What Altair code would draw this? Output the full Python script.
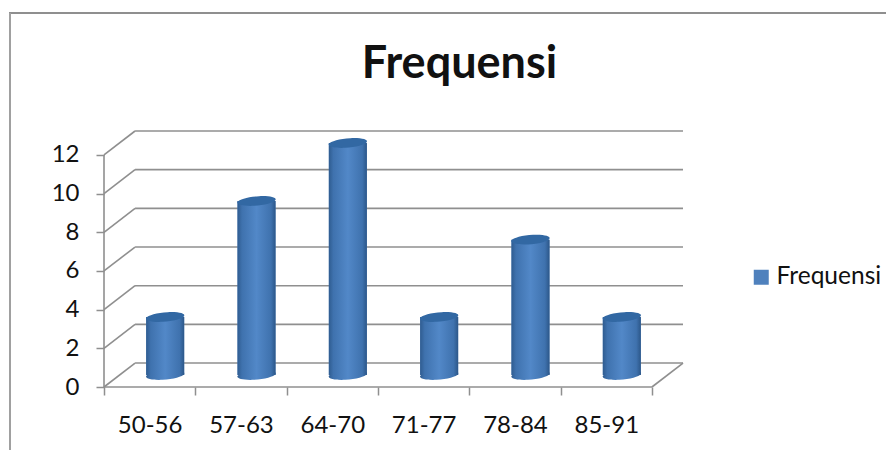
import json
import altair as alt
import pandas as pd

categories = ["50-56", "57-63", "64-70", "71-77", "78-84", "85-91"]
frequensi = [3, 9, 12, 3, 7, 3]
y_ticks = [0, 2, 4, 6, 8, 10, 12]
series_name = "Frequensi"

FONT = "Lato"
GREY = "#8f8f8f"
DEPTH_X = 0.34      # depth of the pseudo-3D box in category units
DEPTH_Y = 1.24      # depth of the pseudo-3D box in value units
HALF = 0.208        # half a cylinder width, in category units
N = len(categories)

x_scale = alt.Scale(domain=[0, N + DEPTH_X], nice=False, zero=False)
y_scale = alt.Scale(domain=[0, 12 + DEPTH_Y], nice=False, zero=False)

bars = pd.DataFrame({"cat": categories, "v": frequensi, "i": range(N), "series": series_name})
bars["cx"] = bars["i"] + 0.5 + DEPTH_X / 2
bars["left"] = bars["cx"] - HALF
bars["right"] = bars["cx"] + HALF
bars["base"] = DEPTH_Y / 2
bars["top"] = bars["v"] + DEPTH_Y / 2

grid = pd.DataFrame({"v": y_ticks})
grid["x0"] = 0.0
grid["xd"] = DEPTH_X
grid["xe"] = N + DEPTH_X
grid["yd"] = grid["v"] + DEPTH_Y

label_array = json.dumps(categories)
x_axis = alt.Axis(
    values=[k / 2 for k in range(2 * N + 1)],
    labelExpr=f"datum.value % 1 ? {label_array}[floor(datum.value)] : ''",
    tickOpacity={"condition": {"test": "datum.value % 1 == 0", "value": 1}, "value": 0},
    tickColor=GREY, tickWidth=1.5, tickSize=8, domain=False, grid=False, title=None,
    labelFont=FONT, labelFontSize=24, labelColor="#111111", labelPadding=18,
    labelOverlap=False, labelBound=False, labelFlush=False,
)
y_axis = alt.Axis(
    values=y_ticks, tickColor=GREY, tickWidth=1.5, tickSize=8, domain=False, grid=False,
    title=None, labelFont=FONT, labelFontSize=24, labelColor="#111111", labelPadding=17,
    labelOverlap=False, labelBound=False,
)

X = lambda f: alt.X(f, scale=x_scale, axis=x_axis)
Y = lambda f: alt.Y(f, scale=y_scale, axis=y_axis)

base_grid = alt.Chart(grid)
back_lines = base_grid.mark_rule(color=GREY, strokeWidth=1.6).encode(x=X("xd:Q"), x2="xe:Q", y=Y("yd:Q"))
side_lines = base_grid.mark_rule(color=GREY, strokeWidth=1.6).encode(x=X("x0:Q"), x2="xd:Q", y=Y("v:Q"), y2="yd:Q")

box = pd.DataFrame({"a": [0.0], "b": [float(N)], "y": [0.0], "d": [DEPTH_X], "h": [DEPTH_Y], "e": [N + DEPTH_X], "t": [12.0]})
front_floor = alt.Chart(box)
floor_line = front_floor.mark_rule(color=GREY, strokeWidth=1.6).encode(x=X("a:Q"), x2="b:Q", y=Y("y:Q"))
right_diag = front_floor.mark_rule(color=GREY, strokeWidth=1.6).encode(x=X("b:Q"), x2="e:Q", y=Y("y:Q"), y2="h:Q")
y_line = front_floor.mark_rule(color=GREY, strokeWidth=1.6).encode(x=X("a:Q"), y=Y("y:Q"), y2="t:Q")

frame_top = front_floor.mark_rule(color=GREY, strokeWidth=2).encode(
    x=alt.value(-95), x2=alt.value(800), y=alt.value(-118))
frame_left = front_floor.mark_rule(color="#a0a0a0", strokeWidth=2).encode(
    x=alt.value(-94), y=alt.value(-118), y2=alt.value(330))

body_gradient = alt.Gradient(
    gradient="linear", x1=0, x2=1, y1=0, y2=0,
    stops=[
        alt.GradientStop(offset=0, color="#2f5c90"),
        alt.GradientStop(offset=0.12, color="#3f72ae"),
        alt.GradientStop(offset=0.5, color="#5288c8"),
        alt.GradientStop(offset=0.88, color="#3f72ae"),
        alt.GradientStop(offset=1, color="#2c5789"),
    ],
)
ELLIPSE = "M-1,0.05 A1,0.24 -5 1,1 1,-0.05 A1,0.24 -5 1,1 -1,0.05 Z"
SIZE = 1444

base_bars = alt.Chart(bars)
legend_bar = base_bars.mark_bar().encode(
    x=X("left:Q"), x2="right:Q", y=Y("base:Q"), y2="top:Q",
    color=alt.Color(
        "series:N",
        scale=alt.Scale(domain=[series_name], range=["#4f81bd"]),
        legend=alt.Legend(
            orient="none", legendX=645, legendY=134, title=None, symbolType="square",
            symbolSize=225, symbolStrokeWidth=0, labelFont=FONT, labelFontSize=24.5,
            labelColor="#111111", labelOffset=3, symbolOffset=0, padding=0,
        ),
    ),
)
bottoms = base_bars.mark_point(shape=ELLIPSE, size=SIZE, filled=True, fill=body_gradient, opacity=1, strokeWidth=0).encode(
    x=X("cx:Q"), y=Y("base:Q"))
bodies = base_bars.mark_bar(fill=body_gradient).encode(x=X("left:Q"), x2="right:Q", y=Y("base:Q"), y2="top:Q")
tops = base_bars.mark_point(shape=ELLIPSE, size=SIZE, filled=True, fill="#3268a3", opacity=1, strokeWidth=0).encode(
    x=X("cx:Q"), y=Y("top:Q"))

chart = alt.layer(
    back_lines, side_lines, floor_line, right_diag, y_line,
    legend_bar, bottoms, bodies, tops, frame_top, frame_left,
).properties(
    width=579,
    height=256,
    autosize=alt.AutoSizeParams(type="none"),
    padding={"left": 96, "top": 123, "right": 203, "bottom": 63},
    title=alt.TitleParams(
        text=series_name, font=FONT, fontSize=45, fontWeight="bold", color="#111111",
        anchor="middle", dx=66, offset=-75,
    ),
).configure_view(stroke=None)

chart.save("out.html", embed_options={"renderer": "svg", "actions": False})
